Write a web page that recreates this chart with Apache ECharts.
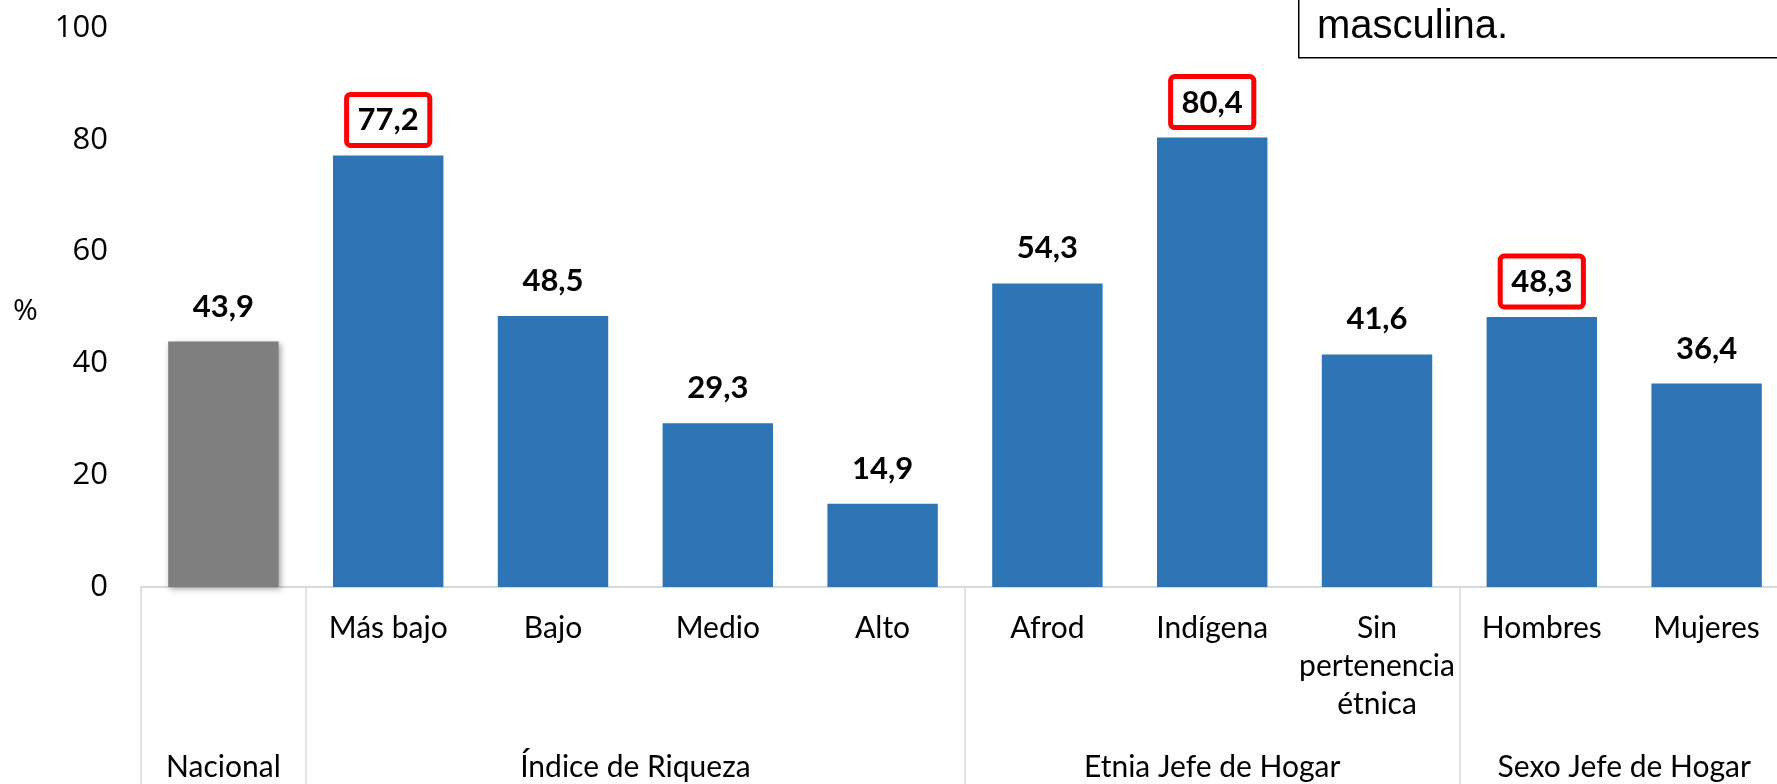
<!DOCTYPE html>
<html>
<head>
<meta charset="utf-8">
<script src="https://cdn.jsdelivr.net/npm/echarts@6/dist/echarts.min.js"></script>
<style>
  html, body { margin: 0; padding: 0; background: #fff; overflow: hidden; }
  #chart { width: 1792px; height: 784px; }
</style>
</head>
<body>
<div id="chart"></div>
<script>
  // categorias y valores (%)
  var categories = ['Nacional', 'Más bajo', 'Bajo', 'Medio', 'Alto', 'Afrod', 'Indígena', 'Sin\npertenencia\nétnica', 'Hombres', 'Mujeres'];
  var values = [43.9, 77.2, 48.5, 29.3, 14.9, 54.3, 80.4, 41.6, 48.3, 36.4];
  var highlighted = [1, 6, 8];
  // grupos: posicion central (en categorias) y nombre
  var groupPos = [0.5, 3, 6.5, 9];
  var groupNames = ['Nacional', 'Índice de Riqueza', 'Etnia Jefe de Hogar', 'Sexo Jefe de Hogar'];
  var groupBounds = [0, 1, 5, 8];
  var yTicks = [0, 20, 40, 60, 80, 100];

  var chart = echarts.init(document.getElementById('chart'));

  var barData = values.map(function (v, i) {
    var boxed = highlighted.indexOf(i) >= 0;
    return {
      value: v,
      itemStyle: i === 0
        ? { color: '#7f7f7f', shadowColor: 'rgba(0,0,0,0.35)', shadowBlur: 6, shadowOffsetX: 2, shadowOffsetY: 2 }
        : { color: '#2e75b6' },
      label: {
        borderColor: boxed ? '#ff0000' : 'transparent'
      }
    };
  });

  var option = {
    animation: false,
    grid: { left: 141, top: 28, right: 0, height: 559 },
    xAxis: [
      {
        type: 'category',
        data: categories,
        axisLine: { lineStyle: { color: '#d9d9d9', width: 2 } },
        axisTick: {
          show: true,
          length: 200,
          interval: function (index) { return groupBounds.indexOf(index) >= 0; },
          lineStyle: { color: '#d9d9d9', width: 1.5 }
        },
        axisLabel: {
          interval: 0,
          margin: 22,
          color: '#000',
          fontFamily: 'Lato',
          fontSize: 30,
          lineHeight: 38,
          formatter: function (v, i) { return i === 0 ? '' : v; }
        }
      },
      {
        type: 'value',
        position: 'bottom',
        min: 0,
        max: 10,
        interval: 0.5,
        axisLine: { show: false },
        axisTick: { show: false },
        splitLine: { show: false },
        axisLabel: {
          margin: 165,
          color: '#000',
          fontFamily: 'Lato',
          fontSize: 30,
          showMinLabel: true,
          showMaxLabel: true,
          formatter: function (v) {
            var k = groupPos.indexOf(v);
            return k >= 0 ? groupNames[k] : '';
          }
        }
      }
    ],
    yAxis: {
      type: 'value',
      min: 0,
      max: 100,
      interval: 20,
      axisLine: { show: false },
      axisTick: { show: false },
      splitLine: { show: false },
      axisLabel: {
        margin: 33,
        color: '#000',
        fontFamily: 'Open Sans',
        fontSize: 31,
        formatter: function (v) { return yTicks.indexOf(v) >= 0 ? String(v) : ''; }
      }
    },
    series: [
      {
        type: 'bar',
        xAxisIndex: 0,
        barWidth: '67%',
        data: barData,
        label: {
          show: true,
          position: 'top',
          distance: 10,
          color: '#000',
          fontFamily: 'Lato',
          fontWeight: 'bold',
          fontSize: 31,
          lineHeight: 32,
          padding: [10, 11, 9, 11],
          borderWidth: 5,
          borderRadius: 4,
          formatter: function (p) { return p.value.toFixed(1).replace('.', ','); }
        }
      }
    ],
    graphic: [
      {
        type: 'text',
        left: 13,
        top: 296,
        style: { text: '%', font: '30px "Open Sans"', fill: '#000' }
      },
      {
        type: 'rect',
        left: 1298,
        top: -10,
        shape: { width: 600, height: 67 },
        style: { fill: '#fff', stroke: '#000', lineWidth: 1.5 }
      },
      {
        type: 'text',
        left: 1317,
        top: 7,
        style: { text: 'masculina.', font: '40px "Liberation Sans"', fill: '#000' }
      }
    ]
  };

  chart.setOption(option);
</script>
</body>
</html>
